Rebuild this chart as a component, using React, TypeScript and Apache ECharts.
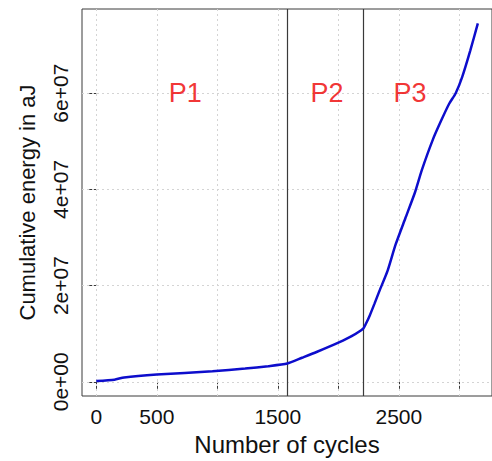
import React, { useEffect, useRef } from "react";
import * as echarts from "echarts";

// Cumulative energy curve over load cycles
const cycles = [0, 150, 230, 500, 960, 1230, 1420, 1578, 1700, 1820, 2005, 2110, 2207, 2225, 2260, 2300, 2340, 2406, 2473, 2554, 2634, 2690, 2782, 2850, 2916, 2970, 3024, 3091, 3153];
const energyMillions = [0.15, 0.45, 0.9, 1.5, 2.2, 2.75, 3.25, 3.8, 5.0, 6.2, 8.2, 9.5, 11.1, 11.9, 13.8, 16.3, 18.9, 23.0, 28.5, 34.0, 39.4, 44.0, 50.4, 54.3, 57.8, 60.0, 63.4, 68.9, 74.5];

// Axis ticks
const xTicks = [0, 500, 1000, 1500, 2000, 2500, 3000];
const xTickLabels = [0, 500, 1500, 2500];
const yTicks = [0, 2e7, 4e7, 6e7];

// Phase boundaries and phase names
const phaseBounds = [1575, 2210];
const phaseNames = ["P1", "P2", "P3"];
const phaseLabelX = [736, 1906, 2592];
const phaseLabelY = 6.01e7;

const FONT = "Liberation Sans, Arial, Helvetica, sans-serif";

function sci(v: number): string {
  if (v === 0) return "0e+00";
  const e = Math.floor(Math.log10(Math.abs(v)));
  const m = Math.round(v / Math.pow(10, e));
  return `${m}e+${String(e).padStart(2, "0")}`;
}

export default function App() {
  const ref = useRef<HTMLDivElement>(null);

  useEffect(() => {
    if (!ref.current) return;
    const chart = echarts.init(ref.current, undefined, { renderer: "svg" });

    const curve = cycles.map((c, i) => [c, energyMillions[i] * 1e6]);

    const gridLines = [
      ...xTicks.map((v) => ({ xAxis: v })),
      ...yTicks.map((v) => ({ yAxis: v })),
    ];

    chart.setOption({
      animation: false,
      backgroundColor: "#ffffff",
      textStyle: { fontFamily: FONT, fontSize: 21 },
      grid: {
        left: 82,
        top: 9,
        right: -10,
        bottom: 62,
        show: true,
        borderColor: "#3a3a3a",
        borderWidth: 1,
        backgroundColor: "transparent",
      },
      xAxis: {
        type: "value",
        min: -118,
        max: 3270,
        name: "Number of cycles",
        nameLocation: "middle",
        nameGap: 36,
        nameTextStyle: { fontFamily: FONT, fontSize: 24, color: "#111" },
        axisLine: { show: false },
        axisTick: {
          show: true,
          length: 7,
          customValues: xTicks,
          lineStyle: { color: "#3a3a3a", width: 1 },
        },
        axisLabel: {
          customValues: xTickLabels,
          margin: 10,
          fontFamily: FONT,
          fontSize: 21,
          color: "#111",
          formatter: (v: number) => String(v),
        },
        splitLine: { show: false },
      },
      yAxis: {
        type: "value",
        min: -2.95e6,
        max: 7.75e7,
        name: "Cumulative energy in aJ",
        nameLocation: "middle",
        nameRotate: 90,
        nameGap: 44,
        nameTextStyle: { fontFamily: FONT, fontSize: 22, color: "#111" },
        axisLine: { show: false },
        axisTick: {
          show: true,
          length: 7,
          customValues: yTicks,
          lineStyle: { color: "#3a3a3a", width: 1 },
        },
        axisLabel: {
          customValues: yTicks,
          rotate: 90,
          margin: 11,
          align: "center",
          verticalAlign: "bottom",
          fontFamily: FONT,
          fontSize: 21,
          color: "#111",
          formatter: (v: number) => `{t|${sci(v)}}`,
          rich: {
            t: { fontFamily: FONT, fontSize: 21, color: "#111" },
          },
        },
        splitLine: { show: false },
      },
      series: [
        {
          type: "line",
          data: [],
          silent: true,
          z: 1,
          markLine: {
            silent: true,
            symbol: "none",
            z: 1,
            label: { show: false },
            lineStyle: { color: "#d4d4d4", type: [2, 3], width: 1 },
            data: gridLines,
          },
        },
        {
          type: "line",
          data: [],
          silent: true,
          z: 2,
          markLine: {
            silent: true,
            symbol: "none",
            z: 2,
            label: { show: false },
            lineStyle: { color: "#3a3a3a", type: "solid", width: 1.2 },
            data: phaseBounds.map((v) => ({ xAxis: v })),
          },
        },
        {
          type: "line",
          data: curve,
          showSymbol: false,
          smooth: 0.2,
          z: 3,
          lineStyle: { color: "#0d0dcc", width: 2.5 },
        },
        {
          type: "scatter",
          data: phaseNames.map((n, i) => [phaseLabelX[i], phaseLabelY, n]),
          symbolSize: 0,
          silent: true,
          z: 4,
          label: {
            show: true,
            position: "inside",
            fontFamily: FONT,
            fontSize: 27,
            color: "#ee0000",
            formatter: (p: any) => p.value[2],
          },
        },
      ],
    });

    return () => chart.dispose();
  }, []);

  return (
    <div
      ref={ref}
      style={{ position: "fixed", left: 0, top: 0, width: 492, height: 461 }}
    />
  );
}
